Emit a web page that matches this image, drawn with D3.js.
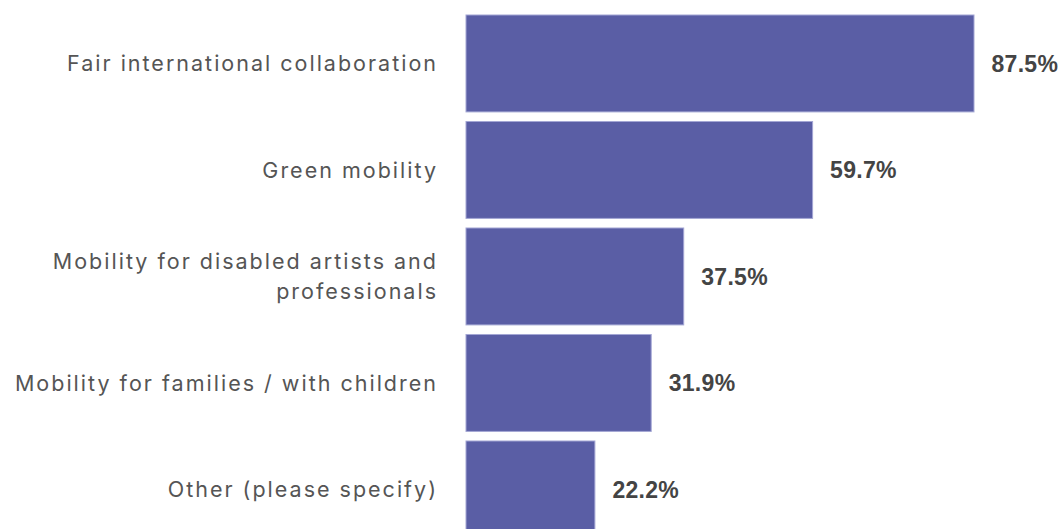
<!DOCTYPE html>
<html>
  <head>
    <meta charset="utf-8" />
    <script src="https://d3js.org/d3.v7.min.js"></script>
    <style>
        body { margin: 0; background: #fff; }
        .label { font-family: Inter, "Liberation Sans", Arial, sans-serif; font-size: 21.5px; fill: #555; letter-spacing: 2px; }
        .value { font-family: "Liberation Sans", Arial, sans-serif; font-size: 23px; font-weight: bold; fill: #444; letter-spacing: 0.3px; }
    </style>
  </head>
  <body>

    <svg id="chart" width="1062" height="529"></svg>

        <script>

            var categories = [
                "Fair international collaboration",
                "Green mobility",
                "Mobility for disabled artists and professionals",
                "Mobility for families / with children",
                "Other (please specify)"
            ];

            var values = [87.5, 59.7, 37.5, 31.9, 22.2];

            var svg = d3.select("#chart");

            var x = d3.scaleLinear()
                .domain([0, 87.5])
                .range([466, 974]);

            var y = d3.scaleBand()
                .domain(categories)
                .range([10.2, 542.7])
                .paddingInner(0.09)
                .paddingOuter(0.045);

            var data = categories.map(function(c, i) {
                return { cat: c, value: values[i] };
            });

            var labelX = 438;

            // bars
            svg.selectAll("rect.bar")
                .data(data)
                .enter().append("rect")
                .attr("class", "bar")
                .attr("x", x(0))
                .attr("y", function(d) { return y(d.cat); })
                .attr("width", function(d) { return x(d.value) - x(0); })
                .attr("height", y.bandwidth())
                .attr("fill", "#5a5ea5")
                .attr("stroke", "#a3a6d4")
                .attr("stroke-width", 1);

            // value labels
            svg.selectAll("text.value")
                .data(data)
                .enter().append("text")
                .attr("class", "value")
                .attr("x", function(d) { return x(d.value) + 17.5; })
                .attr("y", function(d) { return y(d.cat) + y.bandwidth() / 2; })
                .attr("dy", "0.36em")
                .text(function(d) { return d.value.toFixed(1) + "%"; });

            // category labels, wrapped
            var labels = svg.selectAll("text.label")
                .data(data)
                .enter().append("text")
                .attr("class", "label")
                .attr("text-anchor", "end")
                .attr("x", labelX)
                .attr("y", function(d) { return y(d.cat) + y.bandwidth() / 2; });

            labels.each(function(d) {
                var text = d3.select(this);
                var words = d.cat.split(" ");
                var lines = [];
                var line = [];
                var tspan = text.append("tspan");
                words.forEach(function(w) {
                    line.push(w);
                    tspan.text(line.join(" "));
                    if (tspan.node().getComputedTextLength() > 440 && line.length > 1) {
                        line.pop();
                        lines.push(line.join(" "));
                        line = [w];
                    }
                });
                lines.push(line.join(" "));
                tspan.remove();
                var lh = 30;
                var start = -(lines.length - 1) * lh / 2;
                lines.forEach(function(l, i) {
                    text.append("tspan")
                        .attr("x", labelX)
                        .attr("y", +text.attr("y") + start + i * lh)
                        .attr("dy", "0.36em")
                        .text(l);
                });
            });

        </script>
  </body>
</html>
